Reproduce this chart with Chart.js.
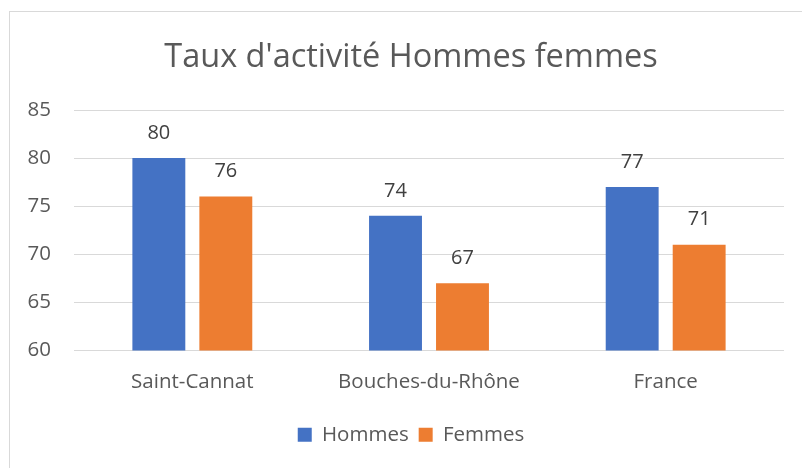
<!DOCTYPE html>
<html>
<head>
<meta charset="utf-8">
<script src="https://cdn.jsdelivr.net/npm/chart.js@4"></script>
<style>
  body { margin: 0; background: #fff; overflow: hidden; }
  #frame { position: absolute; left: 9px; top: 11px; width: 1000px; height: 1000px; border: 1px solid #d9d9d9; }
  #chart { position: absolute; left: 0; top: 0; }
</style>
</head>
<body>
<div id="frame"></div>
<canvas id="chart" width="802" height="468"></canvas>
<script>
const categories = ["Saint-Cannat", "Bouches-du-Rhône", "France"];
const hommes = [80, 74, 77];
const femmes = [76, 67, 71];
const yTicks = [60, 65, 70, 75, 80, 85];

const fontFamily = "'Open Sans', 'Noto Sans', sans-serif";

// valeurs au-dessus des barres
const valueLabels = {
    id: "valueLabels",
    afterDatasetsDraw(chart) {
        const ctx = chart.ctx;
        ctx.save();
        ctx.fillStyle = "#404040";
        ctx.font = "20px " + fontFamily;
        ctx.textAlign = "center";
        ctx.textBaseline = "middle";
        chart.data.datasets.forEach((ds, i) => {
            chart.getDatasetMeta(i).data.forEach((bar, j) => {
                ctx.fillText(ds.data[j], bar.x, bar.y - 25);
            });
        });
        ctx.restore();
    }
};

// élargir la zone de l'axe Y pour que ses libellés ne soient pas coupés
const widenYAxis = {
    id: "widenYAxis",
    afterLayout(chart) {
        chart.scales.y.left = 0;
    }
};

const chart = new Chart(document.getElementById("chart").getContext("2d"), {
    type: "bar",
    data: {
        labels: categories,
        datasets: [
            { label: "Hommes", data: hommes, backgroundColor: "#4472C4", categoryPercentage: 0.566, barPercentage: 0.79 },
            { label: "Femmes", data: femmes, backgroundColor: "#ED7D31", categoryPercentage: 0.566, barPercentage: 0.79 },
        ],
    },
    options: {
        responsive: false,
        animation: false,
        devicePixelRatio: 1,
        layout: { padding: { top: 11, left: 38, right: 18, bottom: 13 } },
        plugins: {
            title: {
                display: true,
                text: "Taux d'activité Hommes femmes",
                color: "#595959",
                font: { family: fontFamily, size: 32.5, weight: "normal" },
                padding: { top: 27, bottom: 33 },
            },
            legend: {
                position: "bottom",
                labels: {
                    color: "#595959",
                    font: { family: fontFamily, size: 20.5 },
                    boxWidth: 14,
                    boxHeight: 14,
                    padding: 10,
                },
            },
            tooltip: { enabled: false },
        },
        scales: {
            x: {
                grid: { display: false, drawTicks: false },
                border: { display: false },
                ticks: { color: "#595959", font: { family: fontFamily, size: 20.5 }, padding: 19 },
                afterFit: (scale) => { scale.height = 64; },
            },
            y: {
                min: 60,
                max: 85,
                grid: { color: "#d9d9d9", drawTicks: false },
                border: { display: false },
                afterBuildTicks: (scale) => { scale.ticks = yTicks.map((v) => ({ value: v })); },
                ticks: { color: "#595959", font: { family: fontFamily, size: 20.5 }, padding: 23 },
                afterFit: (scale) => { scale.width = 36; },
            },
        },
    },
    plugins: [valueLabels, widenYAxis],
});
</script>
</body>
</html>
